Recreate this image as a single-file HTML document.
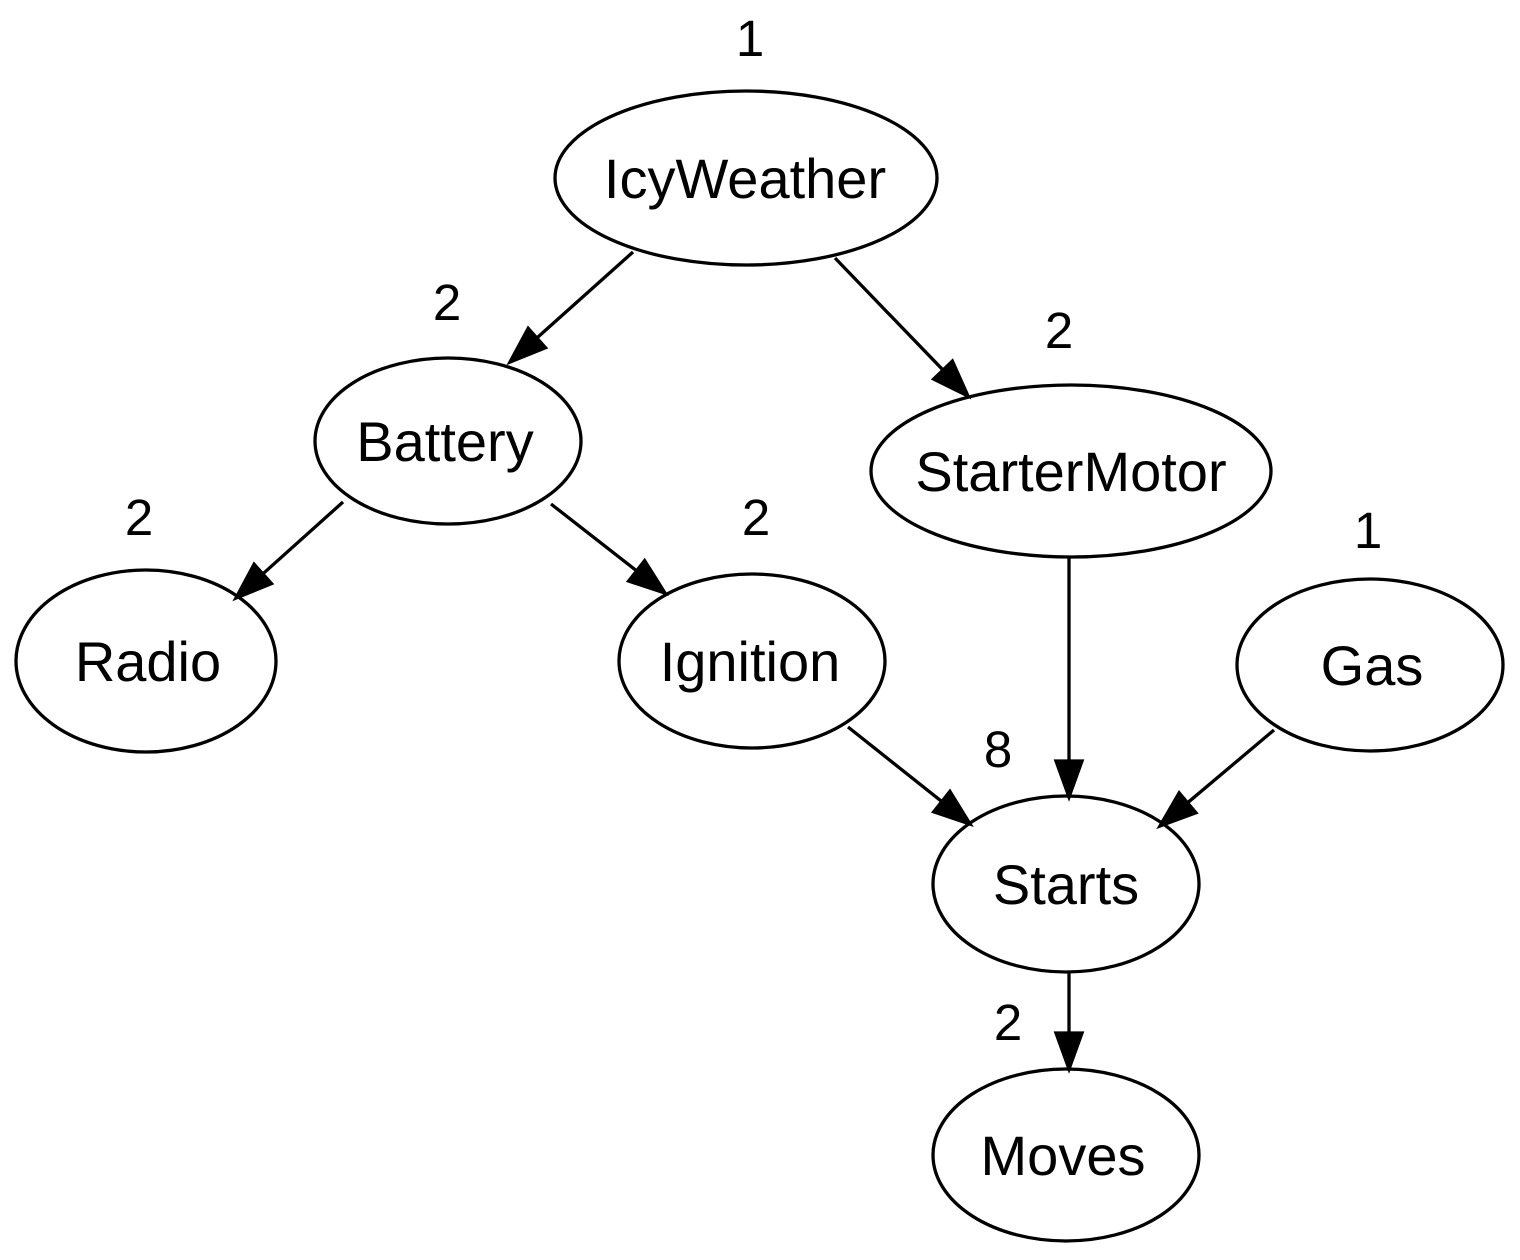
<!DOCTYPE html>
<html><head><meta charset="utf-8"><style>
html,body{margin:0;padding:0;background:#fff;}
svg{display:block;}
text{font-family:"Liberation Sans",Arial,sans-serif;fill:#000;}
</style></head><body>
<svg width="1520" height="1260" viewBox="0 0 1520 1260" xmlns="http://www.w3.org/2000/svg">
<g fill="none" stroke="#000" stroke-width="3.3">
<ellipse cx="746" cy="178" rx="191" ry="87"/>
<ellipse cx="448" cy="441" rx="133" ry="83"/>
<ellipse cx="1071" cy="471" rx="200" ry="86"/>
<ellipse cx="146" cy="661" rx="130" ry="91"/>
<ellipse cx="752" cy="661" rx="133" ry="87"/>
<ellipse cx="1370" cy="665" rx="133" ry="86"/>
<ellipse cx="1066" cy="884" rx="133" ry="88"/>
<ellipse cx="1066" cy="1155" rx="133" ry="86"/>
</g>
<g stroke="#000" stroke-width="3.3" fill="#000" id="edges"></g>
<script>
var E=[[633,252,510,362],[835,258,968,396],[343,502,236,598],[551,504,665,593],[1069,557,1069,797],[848,727,970,824],[1274,730,1160,826],[1069,972,1069,1069]];
var g=document.getElementById('edges'),ns='http://www.w3.org/2000/svg';
E.forEach(function(e){var dx=e[2]-e[0],dy=e[3]-e[1],L=Math.hypot(dx,dy),ux=dx/L,uy=dy/L,h=36,w=13;
var bx=e[2]-ux*h,by=e[3]-uy*h;
var l=document.createElementNS(ns,'line');l.setAttribute('x1',e[0]);l.setAttribute('y1',e[1]);l.setAttribute('x2',bx);l.setAttribute('y2',by);g.appendChild(l);
var p=document.createElementNS(ns,'polygon');p.setAttribute('points',e[2]+','+e[3]+' '+(bx-uy*w)+','+(by+ux*w)+' '+(bx+uy*w)+','+(by-ux*w));g.appendChild(p);});
</script>
<g font-size="56" text-anchor="middle">
<text x="745" y="198">IcyWeather</text>
<text x="445" y="461">Battery</text>
<text x="1071" y="491">StarterMotor</text>
<text x="148" y="681">Radio</text>
<text x="750" y="681">Ignition</text>
<text x="1372" y="685">Gas</text>
<text x="1066" y="904">Starts</text>
<text x="1063" y="1175">Moves</text>
</g>
<g font-size="51" text-anchor="middle">
<text x="750" y="56">1</text>
<text x="447" y="320">2</text>
<text x="1059" y="348">2</text>
<text x="139" y="535">2</text>
<text x="756" y="535">2</text>
<text x="1368" y="548">1</text>
<text x="998" y="767">8</text>
<text x="1008" y="1040">2</text>
</g>
</svg>
</body></html>
